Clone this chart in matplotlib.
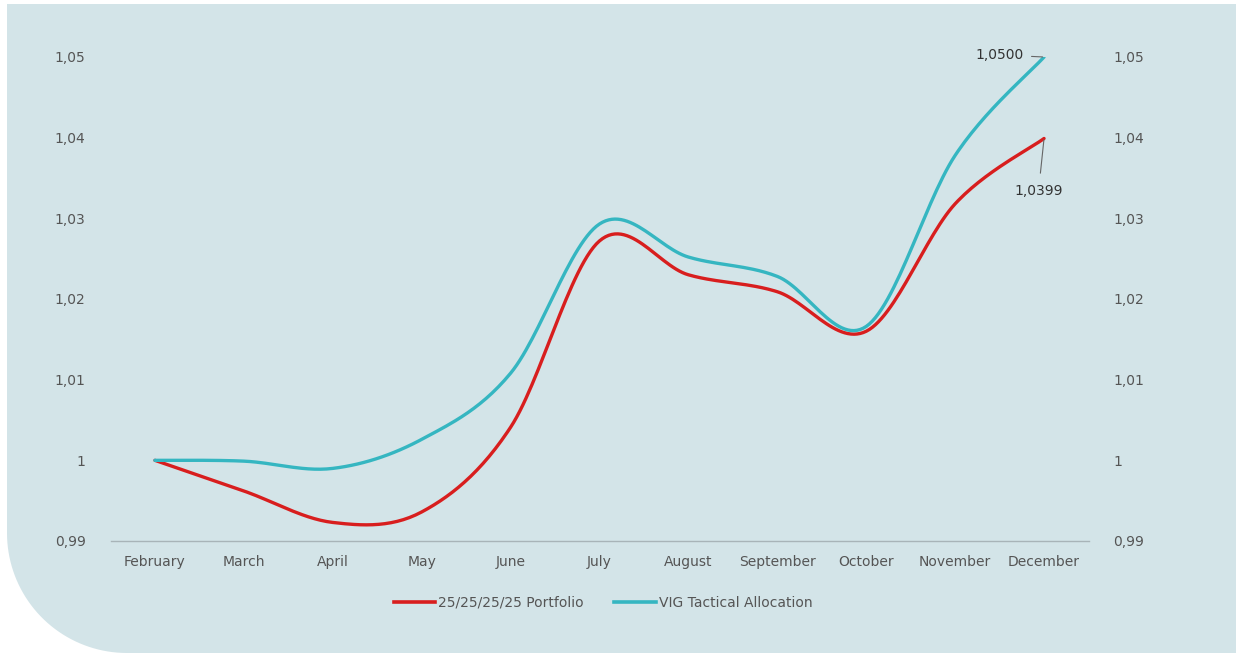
import numpy as np
import matplotlib.pyplot as plt
from matplotlib.path import Path
from matplotlib.patches import PathPatch
from matplotlib.lines import Line2D
from matplotlib.transforms import Affine2D

months = ["February", "March", "April", "May", "June", "July",
          "August", "September", "October", "November", "December"]
portfolio = [1.0000, 0.9962, 0.9923, 0.9936, 1.0041, 1.0272,
             1.0230, 1.0209, 1.0160, 1.0318, 1.0399]
tactical = [1.0000, 0.9999, 0.9990, 1.0026, 1.0108, 1.0293,
            1.0252, 1.0228, 1.0166, 1.0378, 1.0500]
yticks = [0.99, 1.00, 1.01, 1.02, 1.03, 1.04, 1.05]
ytick_labels = ["0,99", "1", "1,01", "1,02", "1,03", "1,04", "1,05"]

RED = "#d81e1e"
TEAL = "#35b6c1"
PANEL = "#d3e4e8"
TXT = "#555555"


def smooth(y, n=30):
    """Excel-style smoothed line: cubic Bezier segments through the points."""
    x = np.arange(len(y), dtype=float)
    y = np.asarray(y, dtype=float)
    px = np.concatenate([[x[0]], x, [x[-1]]])
    py = np.concatenate([[y[0]], y, [y[-1]]])
    t = np.linspace(0, 1, n)[:, None]
    xs, ys = [], []
    for i in range(1, len(px) - 2):
        p0 = np.array([px[i], py[i]])
        p3 = np.array([px[i + 1], py[i + 1]])
        c1 = p0 + (p3 - np.array([px[i - 1], py[i - 1]])) / 6
        c2 = p3 - (np.array([px[i + 2], py[i + 2]]) - p0) / 6
        seg = ((1 - t) ** 3 * p0 + 3 * (1 - t) ** 2 * t * c1
               + 3 * (1 - t) * t ** 2 * c2 + t ** 3 * p3)
        xs.append(seg[:, 0])
        ys.append(seg[:, 1])
    return np.concatenate(xs), np.concatenate(ys)


W, H = 1236, 653
fig = plt.figure(figsize=(W / 100, H / 100), dpi=100)
fig.patch.set_facecolor("white")

# background panel with a rounded lower-left corner (pixel units)
r = 120
x0, y0, x1, y1 = 7, 0, W, H - 4
ang = np.linspace(np.pi, 1.5 * np.pi, 40)
arc = np.column_stack([x0 + r + r * np.cos(ang), y0 + r + r * np.sin(ang)])
verts = np.vstack([[[x0, y1]], arc, [[x1, y0], [x1, y1], [x0, y1]]])
px_to_fig = Affine2D().scale(1 / W, 1 / H) + fig.transFigure
fig.patches.append(PathPatch(Path(verts, closed=True), transform=px_to_fig,
                             facecolor=PANEL, edgecolor="none", zorder=-5))

ax = fig.add_axes([110.5 / W, 1 - 541 / H, 978 / W, (541 - 57) / H])
ax.set_facecolor("none")

xs, ys = smooth(portfolio)
ax.plot(xs, ys, color=RED, lw=2.4, solid_capstyle="round")
xs, ys = smooth(tactical)
ax.plot(xs, ys, color=TEAL, lw=2.4, solid_capstyle="round")

ax.set_xlim(-0.5, len(months) - 0.5)
ax.set_ylim(0.99, 1.05)
ax.set_xticks(range(len(months)))
ax.set_xticklabels(months)
ax.set_yticks(yticks)
ax.set_yticklabels(ytick_labels)
ax.tick_params(axis="both", length=0, labelsize=10, colors=TXT)
ax.tick_params(axis="x", pad=10)
ax.tick_params(axis="y", pad=18)
for s in ["top", "right", "left"]:
    ax.spines[s].set_visible(False)
ax.spines["bottom"].set_color("#a8b4b8")
ax.spines["bottom"].set_linewidth(1.0)

ax2 = ax.twinx()
ax2.set_ylim(ax.get_ylim())
ax2.set_yticks(yticks)
ax2.set_yticklabels(ytick_labels)
ax2.tick_params(axis="y", length=0, labelsize=10, colors=TXT, pad=18)
for s in ax2.spines.values():
    s.set_visible(False)

last = len(months) - 1
ax.annotate("1,0500", xy=(last, tactical[-1]), xytext=(-15, 1.5),
            textcoords="offset points", ha="right", va="center",
            fontsize=10, color="#333333",
            arrowprops=dict(arrowstyle="-", color="#666666", lw=0.8,
                            shrinkA=4, shrinkB=1))
ax.annotate("1,0399", xy=(last, portfolio[-1]), xytext=(-4, -38),
            textcoords="offset points", ha="center", va="center",
            fontsize=10, color="#333333",
            arrowprops=dict(arrowstyle="-", color="#666666", lw=0.8,
                            shrinkA=6, shrinkB=1))

handles = [Line2D([], [], color=RED, lw=2.6),
           Line2D([], [], color=TEAL, lw=2.6)]
fig.legend(handles, ["25/25/25/25 Portfolio", "VIG Tactical Allocation"],
           loc="center", bbox_to_anchor=(603 / W, 1 - 603 / H), ncol=2,
           frameon=False, fontsize=10, labelcolor=TXT, handlelength=3.0,
           handletextpad=0.2, columnspacing=2.2)

fig.savefig("out.png", dpi=100)
